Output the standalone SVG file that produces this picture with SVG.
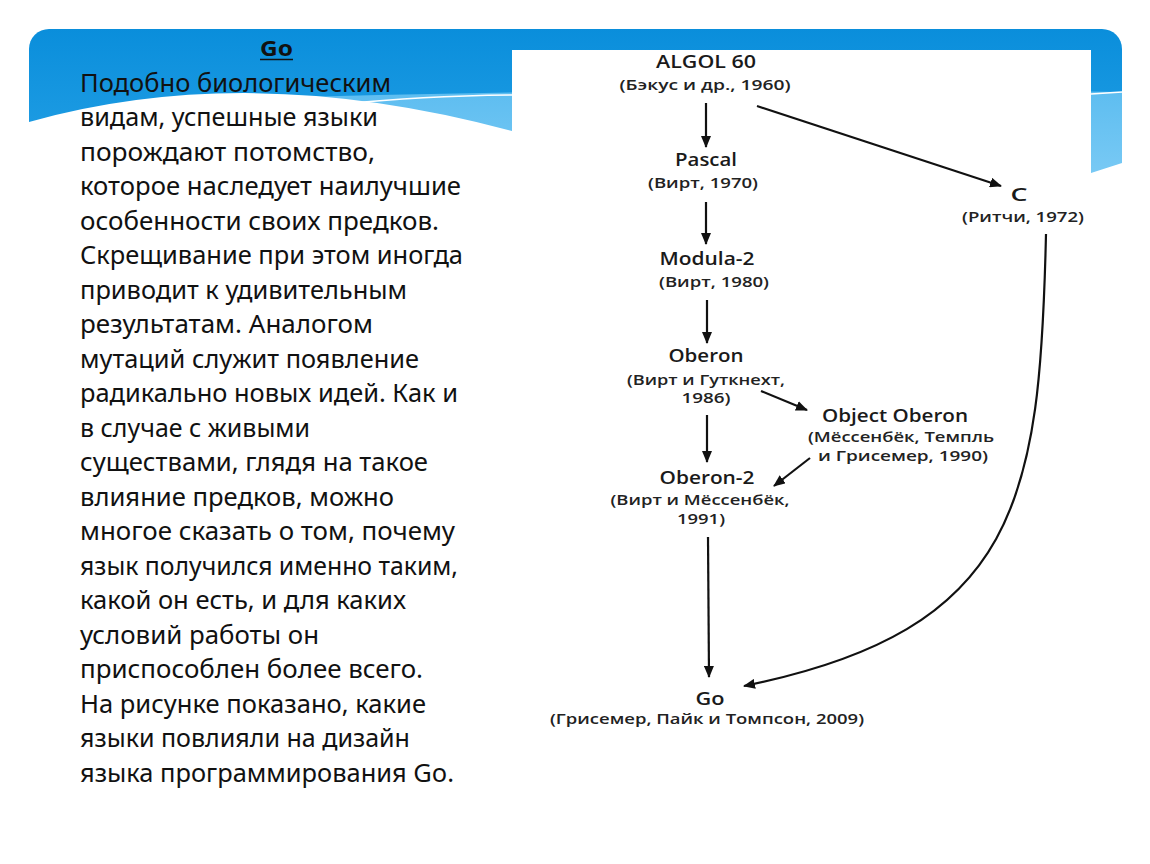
<svg xmlns="http://www.w3.org/2000/svg" width="1150" height="864" viewBox="0 0 1150 864">
<defs>
<linearGradient id="bg" x1="0" y1="0" x2="0" y2="1">
<stop offset="0" stop-color="#0a8edb"/>
<stop offset="1" stop-color="#2fa8ea"/>
</linearGradient>
<linearGradient id="lb" x1="0" y1="0" x2="0" y2="1">
<stop offset="0" stop-color="#5dbdf0"/>
<stop offset="1" stop-color="#8ed3f8"/>
</linearGradient>
<marker id="ah" viewBox="0 0 12 10" refX="11" refY="5" markerWidth="12" markerHeight="10" markerUnits="userSpaceOnUse" orient="auto">
<path d="M0,0 L12,5 L0,10 Z" fill="#111"/>
</marker>
<style>
.body{font-family:"Noto Sans","Open Sans","DejaVu Sans",sans-serif;font-size:25px;fill:#111}
.ttl{font-family:"Noto Sans","Open Sans",sans-serif;font-size:22px;font-weight:700;fill:#111}
.nm{font-family:"Open Sans","Noto Sans",sans-serif;font-size:18px;font-weight:600;fill:#1a1a1a;text-anchor:middle}
.sb{font-family:"Open Sans","Noto Sans",sans-serif;font-size:15px;font-weight:600;fill:#222;text-anchor:middle}
.cn{fill:none;stroke:#111;stroke-width:2.2}
</style>
</defs>
<rect width="1150" height="864" fill="#fff"/>
<g id="background">
<rect x="29" y="29" width="1093" height="200" rx="20" ry="20" fill="url(#bg)"/>
<path d="M300,97 Q700,86 1122,92 L1122,240 L300,240 Z" fill="url(#lb)"/>
<path d="M29,122 Q250,60 512,131 L1091,173 L1122,163 L1122,864 L29,864 Z" fill="#fff"/>
<path d="M345,104 Q420,96 512,95" fill="none" stroke="#fff" stroke-width="1.5"/>
<path d="M1091,94 L1122,92" fill="none" stroke="#fff" stroke-width="1.5"/>
<rect x="512" y="50" width="579" height="700" fill="#fff"/>
</g>
<g id="text-left">
<text class="ttl" x="260" y="56" textLength="33" lengthAdjust="spacingAndGlyphs">Go</text>
<line x1="260" y1="59.5" x2="293" y2="59.5" stroke="#111" stroke-width="1.6"/>
<text class="body" x="80" y="91.5" textLength="311" lengthAdjust="spacingAndGlyphs">Подобно биологическим</text>
<text class="body" x="80" y="126" textLength="298" lengthAdjust="spacingAndGlyphs">видам, успешные языки</text>
<text class="body" x="80" y="160.5" textLength="295" lengthAdjust="spacingAndGlyphs">порождают потомство,</text>
<text class="body" x="80" y="195" textLength="381" lengthAdjust="spacingAndGlyphs">которое наследует наилучшие</text>
<text class="body" x="80" y="229.5" textLength="359" lengthAdjust="spacingAndGlyphs">особенности своих предков.</text>
<text class="body" x="80" y="264" textLength="383" lengthAdjust="spacingAndGlyphs">Скрещивание при этом иногда</text>
<text class="body" x="80" y="298.5" textLength="327" lengthAdjust="spacingAndGlyphs">приводит к удивительным</text>
<text class="body" x="80" y="333" textLength="293" lengthAdjust="spacingAndGlyphs">результатам. Аналогом</text>
<text class="body" x="80" y="367.5" textLength="339" lengthAdjust="spacingAndGlyphs">мутаций служит появление</text>
<text class="body" x="80" y="402" textLength="378" lengthAdjust="spacingAndGlyphs">радикально новых идей. Как и</text>
<text class="body" x="80" y="436.5" textLength="230" lengthAdjust="spacingAndGlyphs">в случае с живыми</text>
<text class="body" x="80" y="471" textLength="348" lengthAdjust="spacingAndGlyphs">существами, глядя на такое</text>
<text class="body" x="80" y="505.5" textLength="314" lengthAdjust="spacingAndGlyphs">влияние предков, можно</text>
<text class="body" x="80" y="540" textLength="375" lengthAdjust="spacingAndGlyphs">многое сказать о том, почему</text>
<text class="body" x="80" y="574.5" textLength="378" lengthAdjust="spacingAndGlyphs">язык получился именно таким,</text>
<text class="body" x="80" y="609" textLength="326" lengthAdjust="spacingAndGlyphs">какой он есть, и для каких</text>
<text class="body" x="80" y="643.5" textLength="239" lengthAdjust="spacingAndGlyphs">условий работы он</text>
<text class="body" x="80" y="678" textLength="343" lengthAdjust="spacingAndGlyphs">приспособлен более всего.</text>
<text class="body" x="80" y="712.5" textLength="346" lengthAdjust="spacingAndGlyphs">На рисунке показано, какие</text>
<text class="body" x="80" y="747" textLength="330" lengthAdjust="spacingAndGlyphs">языки повлияли на дизайн</text>
<text class="body" x="80" y="781.5" textLength="374" lengthAdjust="spacingAndGlyphs">языка программирования Go.</text>
</g>
<g id="connectors">
<line class="cn" x1="706" y1="103" x2="706" y2="147" marker-end="url(#ah)"/>
<line class="cn" x1="706" y1="202" x2="706" y2="244" marker-end="url(#ah)"/>
<line class="cn" x1="707" y1="300" x2="707" y2="343" marker-end="url(#ah)"/>
<line class="cn" x1="707" y1="415" x2="707" y2="462" marker-end="url(#ah)"/>
<line class="cn" x1="708" y1="537" x2="709" y2="677" marker-end="url(#ah)"/>
<line class="cn" x1="757" y1="106" x2="1001" y2="186" marker-end="url(#ah)"/>
<line class="cn" x1="761" y1="391" x2="807" y2="410" marker-end="url(#ah)"/>
<line class="cn" x1="810" y1="458" x2="774" y2="486" marker-end="url(#ah)"/>
<path class="cn" d="M1046,234 C1040,500 1020,630 744,686" marker-end="url(#ah)"/>
</g>
<g id="node-algol60">
<text class="nm" x="706" y="68" textLength="100" lengthAdjust="spacingAndGlyphs">ALGOL 60</text>
<text class="sb" x="705" y="90" textLength="171" lengthAdjust="spacingAndGlyphs">(Бэкус и др., 1960)</text>
</g>
<g id="node-pascal">
<text class="nm" x="706" y="166" textLength="62" lengthAdjust="spacingAndGlyphs">Pascal</text>
<text class="sb" x="703" y="188" textLength="110" lengthAdjust="spacingAndGlyphs">(Вирт, 1970)</text>
</g>
<g id="node-modula2">
<text class="nm" x="707" y="265" textLength="95" lengthAdjust="spacingAndGlyphs">Modula-2</text>
<text class="sb" x="714" y="287" textLength="110" lengthAdjust="spacingAndGlyphs">(Вирт, 1980)</text>
</g>
<g id="node-oberon">
<text class="nm" x="706" y="362" textLength="75" lengthAdjust="spacingAndGlyphs">Oberon</text>
<text class="sb" x="706" y="385" textLength="158" lengthAdjust="spacingAndGlyphs">(Вирт и Гуткнехт,</text>
<text class="sb" x="706" y="403" textLength="49" lengthAdjust="spacingAndGlyphs">1986)</text>
</g>
<g id="node-object-oberon">
<text class="nm" x="895" y="422" textLength="146" lengthAdjust="spacingAndGlyphs">Object Oberon</text>
<text class="sb" x="901" y="442" textLength="186" lengthAdjust="spacingAndGlyphs">(Мёссенбёк, Темпль</text>
<text class="sb" x="903" y="461" textLength="170" lengthAdjust="spacingAndGlyphs">и Грисемер, 1990)</text>
</g>
<g id="node-oberon2">
<text class="nm" x="707" y="484" textLength="95" lengthAdjust="spacingAndGlyphs">Oberon-2</text>
<text class="sb" x="700" y="505" textLength="179" lengthAdjust="spacingAndGlyphs">(Вирт и Мёссенбёк,</text>
<text class="sb" x="701" y="524" textLength="48" lengthAdjust="spacingAndGlyphs">1991)</text>
</g>
<g id="node-c">
<text class="nm" x="1019" y="201" textLength="17" lengthAdjust="spacingAndGlyphs">C</text>
<text class="sb" x="1023" y="222" textLength="122" lengthAdjust="spacingAndGlyphs">(Ритчи, 1972)</text>
</g>
<g id="node-go">
<text class="nm" x="710" y="705" textLength="29" lengthAdjust="spacingAndGlyphs">Go</text>
<text class="sb" x="707" y="724" textLength="314" lengthAdjust="spacingAndGlyphs">(Грисемер, Пайк и Томпсон, 2009)</text>
</g>
</svg>
